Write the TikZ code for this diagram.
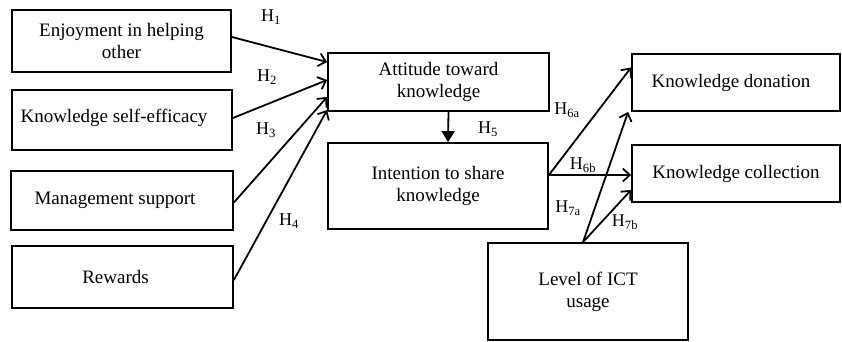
\documentclass[tikz,border=0pt]{standalone}
\usepackage{fontspec}
\setmainfont{Liberation Serif}
\usetikzlibrary{arrows.meta}
\pgfdeclarelayer{edgelayer}
\pgfdeclarelayer{nodelayer}
\pgfsetlayers{edgelayer,nodelayer,main}
\tikzstyle{none}=[inner sep=0pt]
\tikzstyle{construct}=[draw=black, line width=1.8pt, align=center, inner sep=0pt, font=\fontsize{19}{22}\selectfont]
\tikzstyle{hlabel}=[inner sep=0pt, font=\fontsize{18}{20}\selectfont]
\tikzstyle{hypothesis}=[-{Straight Barb[length=7pt,width=13pt]}, line width=1.8pt, draw=black]
\tikzstyle{mediation}=[-{Triangle[length=11pt,width=13pt]}, line width=1.8pt, draw=black]

\begin{document}
\begin{tikzpicture}[x=1pt, y=1pt]
	\useasboundingbox (0, 0) rectangle (842, -341);
	\begin{pgfonlayer}{nodelayer}
		\node [style=construct, minimum width=219, minimum height=62] (0) at (121.5, -41) {Enjoyment in helping\\other};
		\node [style=construct, minimum width=220, minimum height=60] (1) at (122, -120) {\hspace*{-16pt}\raisebox{8pt}{Knowledge self-efficacy}};
		\node [style=construct, minimum width=222, minimum height=59] (2) at (122, -200.5) {\hspace*{-14pt}Management support};
		\node [style=construct, minimum width=221, minimum height=62] (3) at (122.5, -277) {\hspace*{-14pt}Rewards};
		\node [style=construct, minimum width=221, minimum height=58] (4) at (438.5, -82) {Attitude toward\\knowledge};
		\node [style=construct, minimum width=220, minimum height=86] (5) at (438, -186) {Intention to share\\knowledge};
		\node [style=construct, minimum width=208, minimum height=57] (6) at (736, -82.5) {\hspace*{-10pt}Knowledge donation};
		\node [style=construct, minimum width=208, minimum height=57] (7) at (736, -173.5) {Knowledge collection};
		\node [style=construct, minimum width=200, minimum height=97] (8) at (588, -291.5) {Level of ICT\\usage};
		\node [style=hlabel] (9) at (271, -17) {H\textsubscript{1}};
		\node [style=hlabel] (10) at (267, -77) {H\textsubscript{2}};
		\node [style=hlabel] (11) at (266, -130) {H\textsubscript{3}};
		\node [style=hlabel] (12) at (289, -221) {H\textsubscript{4}};
		\node [style=hlabel] (13) at (488, -129) {H\textsubscript{5}};
		\node [style=hlabel] (14) at (567, -110) {H\textsubscript{6a}};
		\node [style=hlabel] (15) at (583, -165) {H\textsubscript{6b}};
		\node [style=hlabel] (16) at (568, -208) {H\textsubscript{7a}};
		\node [style=hlabel] (17) at (625, -222) {H\textsubscript{7b}};
	\end{pgfonlayer}
	\begin{pgfonlayer}{edgelayer}
		\draw [style=hypothesis] ([yshift=4pt]0.east) to ([yshift=20pt]4.west);
		\draw [style=hypothesis] ([yshift=2pt]1.east) to ([yshift=2pt]4.west);
		\draw [style=hypothesis] ([yshift=-2pt]2.east) to ([yshift=-15pt]4.west);
		\draw [style=hypothesis] ([yshift=-3pt]3.east) to ([yshift=-28pt]4.west);
		\draw [style=mediation] ([xshift=10pt]4.south) to ([xshift=10pt]5.north);
		\draw [style=hypothesis] ([yshift=11pt]5.east) to ([yshift=15pt]6.west);
		\draw [style=hypothesis] ([yshift=11pt]5.east) to ([yshift=-1.5pt]7.west);
		\draw [style=hypothesis] ([xshift=-5pt]8.north) to ([xshift=-3pt]6.south west);
		\draw [style=hypothesis] ([xshift=-5pt]8.north) to ([yshift=-16.5pt]7.west);
	\end{pgfonlayer}
\end{tikzpicture}
\end{document}
